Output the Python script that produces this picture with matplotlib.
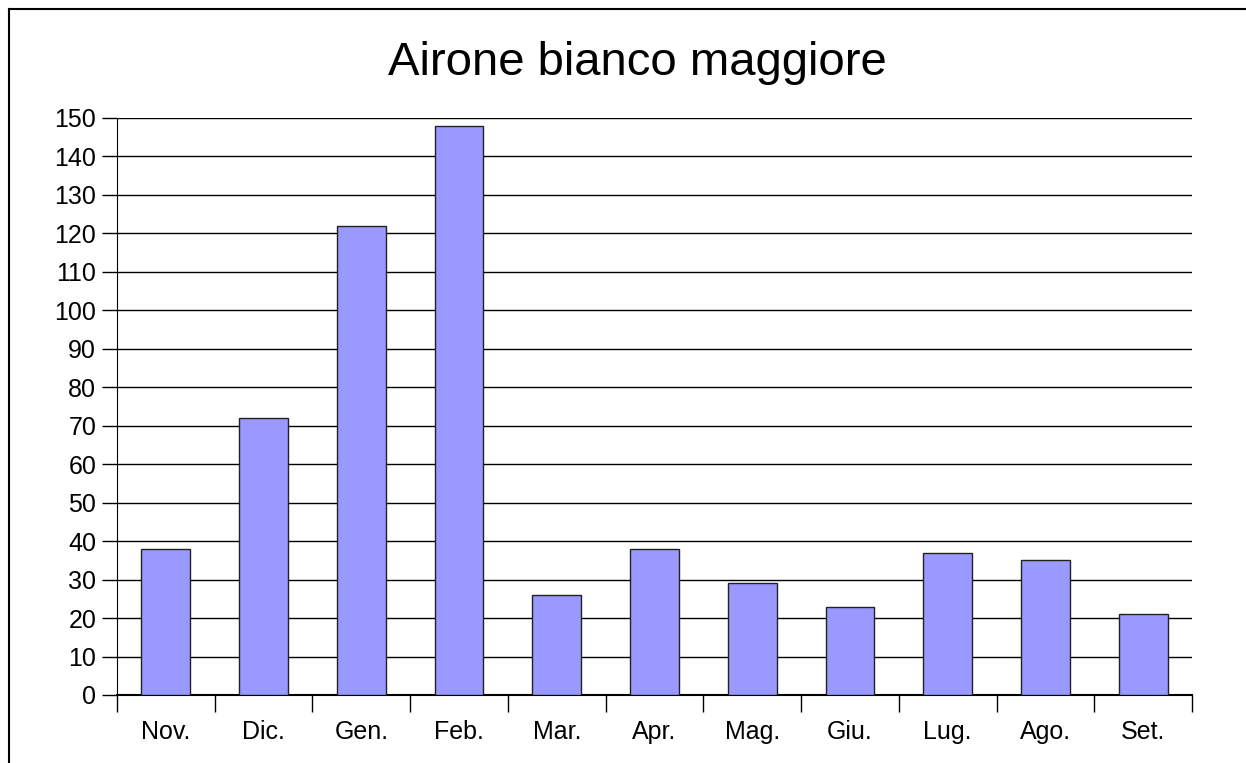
import numpy as np
import matplotlib
matplotlib.use("Agg")
import matplotlib.pyplot as plt
from matplotlib.lines import Line2D

months = ["Nov.", "Dic.", "Gen.", "Feb.", "Mar.", "Apr.", "Mag.", "Giu.", "Lug.", "Ago.", "Set."]
counts = [38, 72, 122, 148, 26, 38, 29, 23, 37, 35, 21]
yticks = np.arange(0, 151, 10)

plt.rcParams["font.family"] = ["Liberation Sans", "DejaVu Sans"]

fig = plt.figure(figsize=(12.46, 7.63), dpi=100)
ax = fig.add_axes([117 / 1246, 1 - 695 / 763, (1192 - 117) / 1246, (695 - 118) / 763])

x = np.arange(len(months))
ax.bar(x, counts, width=0.5, color="#9999ff", edgecolor="#222222", linewidth=1, zorder=3)

ax.set_xlim(-0.5, len(months) - 0.5)
ax.set_ylim(0, 150)
ax.set_yticks(yticks)
ax.set_yticklabels([str(v) for v in yticks], fontsize=18)
ax.set_xticks(x)
ax.set_xticklabels(months, fontsize=18)
ax.set_xticks(np.arange(-0.5, len(months)), minor=True)
ax.tick_params(axis="x", which="major", length=0, pad=18)
ax.tick_params(axis="x", which="minor", length=12, width=1, color="black", direction="out")
ax.tick_params(axis="y", length=11, width=1, color="black", direction="out", pad=4)

ax.grid(True, axis="y", color="black", linewidth=1, zorder=0)
ax.set_axisbelow(True)
for side in ["top", "right"]:
    ax.spines[side].set_visible(False)
ax.spines["left"].set_color("black")
ax.spines["bottom"].set_color("black")
ax.spines["bottom"].set_linewidth(1.5)

fig.text(637 / 1246, 1 - 63 / 763, "Airone bianco maggiore", fontsize=34,
         ha="center", va="center")

# frame of the chart area (left and top edges visible)
fig.add_artist(Line2D([9 / 1246, 9 / 1246], [0, 1 - 9 / 763], transform=fig.transFigure,
                      color="black", linewidth=1.5))
fig.add_artist(Line2D([9 / 1246, 1], [1 - 9 / 763, 1 - 9 / 763], transform=fig.transFigure,
                      color="black", linewidth=1.5))

fig.savefig("out.png", dpi=100)
